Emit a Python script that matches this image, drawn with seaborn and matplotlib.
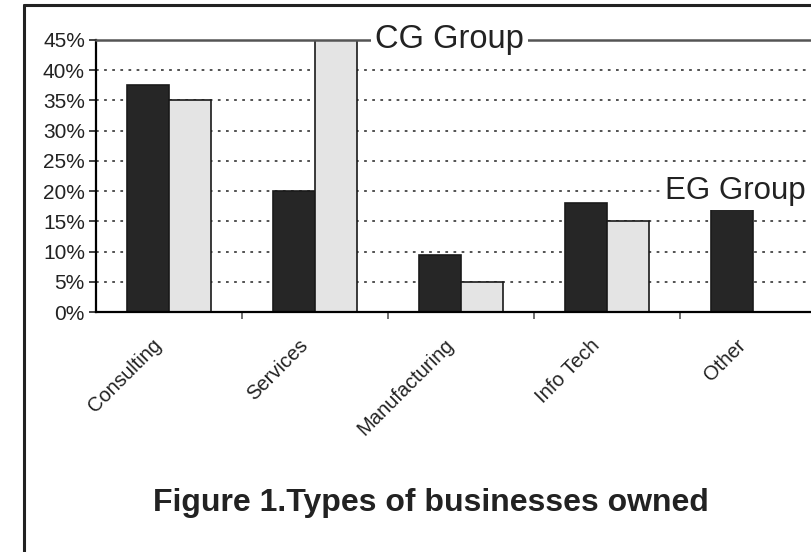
import pandas as pd
import seaborn as sns
import matplotlib.pyplot as plt
from matplotlib.lines import Line2D
from matplotlib.ticker import MultipleLocator, FuncFormatter
from matplotlib.transforms import ScaledTranslation

# Data (percent of respondents)
categories = ['Consulting', 'Services', 'Manufacturing', 'Info Tech', 'Other']
eg_values = [37.5, 20, 9.5, 18, 17]
cg_values = [35, 45, 5, 15, 0]
groups = ['EG Group', 'CG Group']

df = pd.DataFrame({
    'category': categories * 2,
    'group': [groups[0]] * len(categories) + [groups[1]] * len(categories),
    'value': eg_values + cg_values,
})

sns.set_style('white')
plt.rcParams['font.family'] = ['Liberation Sans', 'DejaVu Sans']

fig = plt.figure(figsize=(8.11, 5.52), dpi=100)
ax = fig.add_axes([96 / 811, 1 - 312 / 552, 730 / 811, 272 / 552])

sns.barplot(
    data=df, x='category', y='value', hue='group',
    order=categories, hue_order=groups,
    palette=['#262626', '#e4e4e4'], width=0.57,
    edgecolor='#1a1a1a', linewidth=1.2, legend=False, ax=ax,
)

# Gridlines and axes styling
ax.set_ylim(0, 45)
ax.set_xlim(-0.5, 4.5)
ax.yaxis.set_major_locator(MultipleLocator(5))
ax.yaxis.set_major_formatter(FuncFormatter(lambda v, _: f'{v:.0f}%'))
ax.grid(axis='y', color='#444444', linestyle=(0, (1.5, 3)), linewidth=1.3)
ax.set_axisbelow(True)
for side in ['left', 'bottom']:
    ax.spines[side].set_color('black')
    ax.spines[side].set_linewidth(1.6)
ax.spines['top'].set_color('#555555')
ax.spines['top'].set_linewidth(1.8)
ax.spines['right'].set_visible(False)

ax.set_xlabel('')
ax.set_ylabel('')
ax.set_xticks(range(len(categories)))
ax.set_xticklabels(categories, rotation=45, ha='right', rotation_mode='anchor',
                   fontsize=14.5, color='#222222')
ax.tick_params(axis='x', length=0, pad=17)
shift = ScaledTranslation(-0.17, 0, fig.dpi_scale_trans)
for lbl in ax.get_xticklabels():
    lbl.set_transform(lbl.get_transform() + shift)
ax.tick_params(axis='y', direction='out', length=5, width=1.2, left=True,
               labelsize=15, pad=3, colors='#222222')
ax.set_xticks([0.5, 1.5, 2.5, 3.5], minor=True)
ax.tick_params(axis='x', which='minor', length=5, width=1.2, direction='out',
               bottom=True, color='#555555')

# Group labels placed as callouts
ax.text(1.41, 45, 'CG Group', fontsize=23.5, ha='left', va='center',
        color='#222222', bbox=dict(facecolor='white', edgecolor='none', pad=3))
ax.text(3.40, 20, 'EG Group', fontsize=22.5, ha='left', va='center',
        color='#222222', bbox=dict(facecolor='white', edgecolor='none', pad=3))

fig.text(0.531, 1 - 503 / 552, 'Figure 1.Types of businesses owned',
         fontsize=23, fontweight='bold', ha='center', va='center', color='#222222')

# Outer frame (left and top edges are visible in the crop)
fig.add_artist(Line2D([24 / 811, 24 / 811], [0, 1 - 5 / 552], color='#222222', lw=2.2))
fig.add_artist(Line2D([24 / 811, 1], [1 - 5 / 552, 1 - 5 / 552], color='#222222', lw=2.2))

fig.savefig('out.png', dpi=100)
